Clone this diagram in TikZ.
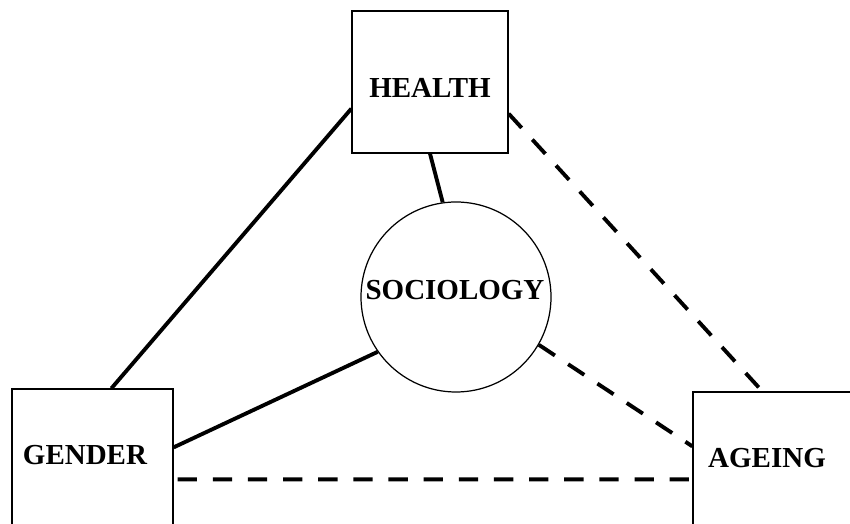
\documentclass[tikz,border=0pt]{standalone}
\usepackage{fontspec}
\setmainfont{Liberation Serif}
\usepackage{tikz}
\usetikzlibrary{positioning,calc}

\begin{document}
\begin{tikzpicture}[
    topic/.style={draw, line width=0.7pt, rectangle, inner sep=0pt},
    core/.style={draw, line width=0.7pt, circle, inner sep=0pt, minimum size=3.8cm},
    word/.style={font=\fontsize{16.5}{19}\selectfont\bfseries},
    strong/.style={line width=2.2pt},
    weak/.style={line width=2.2pt, dash pattern=on 11pt off 9pt}
]
    % frame of the page (boxes at the edges are cut off)
    \clip (0,0) rectangle (17,10.48);

    % Boxes
    \node[topic, minimum width=3.12cm, minimum height=2.84cm] (health) at (8.60,8.84) {};
    \node[topic, minimum width=3.22cm, minimum height=3.70cm] (gender) at (1.85,0.85) {};
    \node[topic, minimum width=4.14cm, minimum height=3.64cm] (ageing) at (15.93,0.82) {};
    \node[core] (sociology) at (9.12,4.54) {};

    % Labels
    \node[word] (healthtext) at (8.60,8.72) {HEALTH};
    \node[word] (gendertext) at (1.70,1.38) {GENDER};
    \node[word] (ageingtext) at (15.34,1.32) {AGEING};
    \node[word] (sociologytext) at (9.10,4.68) {SOCIOLOGY};

    % Solid links
    \draw[strong] ([yshift=0.9cm]health.south west) -- ([xshift=2.0cm]gender.north west);
    \draw[strong] (health.south) -- (sociology.98);
    \draw[strong] (sociology.215) -- ([yshift=-1.18cm]gender.north east);

    % Dashed links
    \draw[weak] ([yshift=0.8cm]health.south east) -- ([xshift=1.4cm]ageing.north west);
    \draw[weak] (sociology.-30) -- ([yshift=-1.1cm]ageing.north west);
    \draw[weak, shorten <=0.08cm] ([yshift=-1.82cm]gender.north east) -- ([yshift=-1.76cm]ageing.north west);
\end{tikzpicture}
\end{document}
